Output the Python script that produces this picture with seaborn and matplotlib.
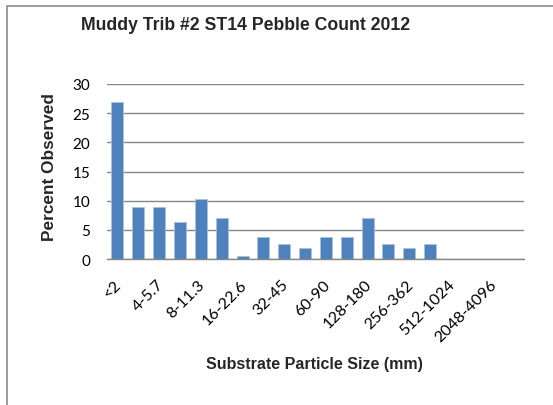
import matplotlib
matplotlib.use("Agg")
import matplotlib.pyplot as plt
import matplotlib.transforms as mtransforms
import seaborn as sns
import pandas as pd
from matplotlib.patches import Rectangle

# Pebble count size classes (mm) and percent of pebbles observed in each
size_classes = ["<2", "2-4", "4-5.7", "5.7-8", "8-11.3", "11.3-16", "16-22.6",
                "22.6-32", "32-45", "45-64", "60-90", "90-128", "128-180",
                "180-256", "256-362", "362-512", "512-1024", "1024-2048",
                "2048-4096"]
percent_observed = [26.9, 9.0, 9.0, 6.4, 10.3, 7.1, 0.6, 3.8, 2.6, 1.9,
                    3.8, 3.8, 7.1, 2.6, 1.9, 2.6, 0.0, 0.0, 0.0]
y_ticks = [0, 5, 10, 15, 20, 25, 30]

sns.set_theme(style="white")
plt.rcParams["font.family"] = ["Lato", "DejaVu Sans"]
bold_font = ["Liberation Sans", "DejaVu Sans"]

df = pd.DataFrame({"size": size_classes, "pct": percent_observed})

fig = plt.figure(figsize=(5.53, 4.06), dpi=100)
ax = fig.add_axes([107 / 553, 1 - 260 / 406, 417 / 553, 175 / 406])

sns.barplot(data=df, x="size", y="pct", order=size_classes, color="#4F81BD",
            saturation=1, width=0.575, edgecolor="#A9C2E2", linewidth=0.6,
            ax=ax)

ax.set_ylim(0, 30)
# one spare slot of room after the last size class
ax.set_xlim(-0.5, len(size_classes) + 0.5)
ax.set_yticks(y_ticks)
ax.set_yticklabels([str(v) for v in y_ticks], fontsize=11, color="#000000")
ax.yaxis.grid(True, color="#868686", linewidth=1.0)
ax.set_axisbelow(True)
for side in ["top", "right", "left"]:
    ax.spines[side].set_visible(False)
ax.spines["bottom"].set_color("#868686")
ax.spines["bottom"].set_linewidth(1.0)
ax.tick_params(axis="y", length=0, pad=12)
ax.tick_params(axis="x", length=0, pad=13)

shown = list(range(0, len(size_classes), 2))
ax.set_xticks(shown)
ax.set_xticklabels([size_classes[i] for i in shown], rotation=45, ha="right",
                   rotation_mode="anchor", fontsize=11.5, color="#000000")
shift = mtransforms.ScaledTranslation(-3 / 100, 0, fig.dpi_scale_trans)
for lab in ax.get_xticklabels():
    lab.set_transform(lab.get_transform() + shift)

ax.set_xlabel("")
ax.set_ylabel("")

fig.text(50 / 553, 1 - 167 / 406, "Percent Observed", rotation=90,
         ha="center", va="center", fontsize=12.4, fontweight="bold",
         family=bold_font)
fig.text(246 / 553, 1 - 25 / 406, "Muddy Trib #2 ST14 Pebble Count 2012",
         ha="center", va="center", fontsize=12.7, fontweight="bold",
         family=bold_font)
fig.text(314 / 553, 1 - 365 / 406, "Substrate Particle Size (mm)",
         ha="center", va="center", fontsize=11.5, fontweight="bold",
         family=bold_font)

# chart-area frame
fig.patches.append(Rectangle((7 / 553, -0.05), 1.2, 1 - 7 / 406 + 0.05,
                             transform=fig.transFigure, fill=False,
                             edgecolor="#8C8C8C", linewidth=1.2))

fig.savefig("out.png", dpi=100)
